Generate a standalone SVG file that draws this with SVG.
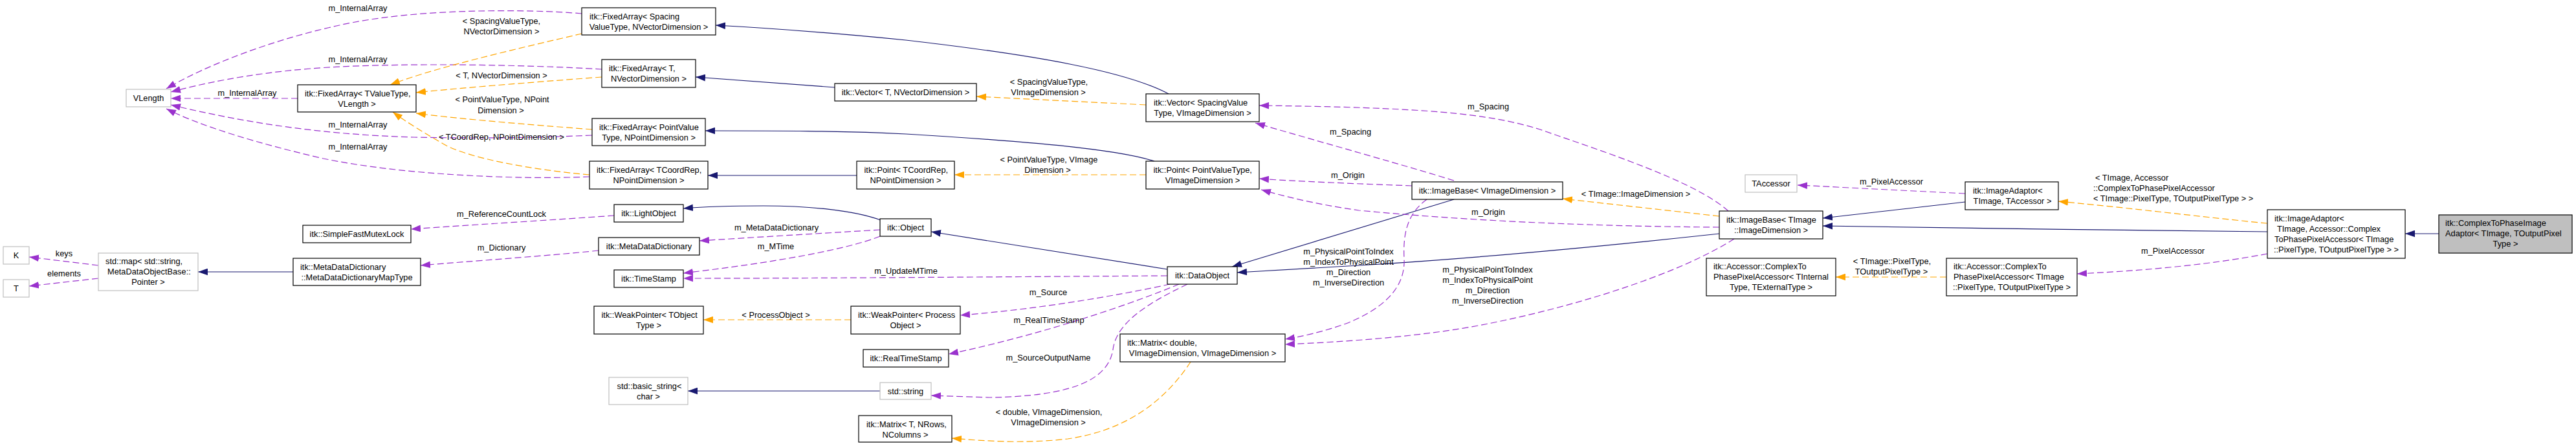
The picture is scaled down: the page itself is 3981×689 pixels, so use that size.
<svg xmlns="http://www.w3.org/2000/svg" width="3981" height="689" viewBox="0 0 3981 689">
<style>
text{font-family:"Liberation Sans",Arial,sans-serif;font-size:12.8px;fill:#000}
.m{text-anchor:middle}
.nd rect{fill:#fff;stroke:#000;stroke-width:1.2}
.gr rect{fill:#fff;stroke:#bfbfbf;stroke-width:1.2}
.mn rect{fill:#bfbfbf;stroke:#000;stroke-width:1.2}
.e path{fill:none;stroke-width:1.2}
.inh{stroke:#191970;marker-end:url(#aN)}
.use{stroke:#9a32cd;stroke-dasharray:10,5;marker-end:url(#aP)}
.tpl{stroke:#ffa500;stroke-dasharray:10,5;marker-end:url(#aO)}
</style>
<defs>
<marker id="aN" markerUnits="userSpaceOnUse" markerWidth="15" markerHeight="11" viewBox="0 0 14 10" refX="14" refY="5" orient="auto"><path d="M0,0L14,5L0,10z" fill="#191970"/></marker>
<marker id="aP" markerUnits="userSpaceOnUse" markerWidth="15" markerHeight="11" viewBox="0 0 14 10" refX="14" refY="5" orient="auto"><path d="M0,0L14,5L0,10z" fill="#9a32cd"/></marker>
<marker id="aO" markerUnits="userSpaceOnUse" markerWidth="15" markerHeight="11" viewBox="0 0 14 10" refX="14" refY="5" orient="auto"><path d="M0,0L14,5L0,10z" fill="#ffa500"/></marker>
</defs>
<rect width="3981" height="689" fill="#fff"/>
<g id="connectors" class="e">
<path class="use" d="M899,21C820,14 640,12 520,40C420,62 320,100 257,137"/>
<path class="use" d="M930,107C820,100 600,96 480,106C380,114 310,130 264,142"/>
<path class="use" d="M460,152L264,152"/>
<path class="use" d="M915,209C820,213 750,214 640,212C500,208 380,190 264,162"/>
<path class="use" d="M911,273C800,278 620,270 500,245C400,222 310,195 257,168"/>
<path class="tpl" d="M899,52C800,75 670,105 603,131"/>
<path class="tpl" d="M930,119C850,125 720,135 643,143"/>
<path class="tpl" d="M915,200C850,195 720,185 643,175"/>
<path class="tpl" d="M911,270C820,262 730,245 690,225C660,208 630,190 607,173"/>
<path class="inh" d="M1806,145C1740,110 1600,85 1400,62C1300,52 1200,44 1106,39"/>
<path class="inh" d="M1290,135L1075,119"/>
<path class="inh" d="M1784,249C1740,235 1650,222 1400,207C1300,202 1200,202 1090,202"/>
<path class="inh" d="M1324,271L1094,271"/>
<path class="inh" d="M1361,340C1320,325 1250,318 1180,318C1120,318 1080,320 1056,322"/>
<path class="inh" d="M1804,416L1439,358"/>
<path class="inh" d="M2247,308L1904,412"/>
<path class="inh" d="M2657,361C2500,378 2300,398 2100,410C2030,414 1960,418 1912,421"/>
<path class="inh" d="M3037,312L2817,337"/>
<path class="inh" d="M3504,358C3300,356 3000,352 2817,349"/>
<path class="inh" d="M3769,361L3717,361"/>
<path class="inh" d="M453,420L306,420"/>
<path class="inh" d="M1360,604L1063,604"/>
<path class="use" d="M152,410L45,397"/>
<path class="use" d="M152,430L45,442"/>
<path class="use" d="M949,333C850,340 720,348 635,354"/>
<path class="use" d="M925,387C850,395 720,404 650,410"/>
<path class="use" d="M1360,355C1260,361 1160,367 1081,372"/>
<path class="use" d="M1360,365C1310,385 1200,405 1056,422"/>
<path class="use" d="M1804,426C1500,428 1250,430 1056,430"/>
<path class="use" d="M1808,439C1720,458 1600,478 1484,487"/>
<path class="use" d="M1822,439C1760,465 1620,515 1466,547"/>
<path class="use" d="M1835,439C1770,470 1725,500 1720,540C1712,590 1650,612 1530,614L1439,611"/>
<path class="use" d="M2671,326C2620,280 2480,235 2380,200C2300,175 2200,166 1946,163"/>
<path class="use" d="M2247,279C2180,258 2050,222 1940,190"/>
<path class="use" d="M2182,287C2100,284 2000,280 1946,276"/>
<path class="use" d="M2657,351C2500,350 2300,344 2100,325C2030,315 1980,302 1949,293"/>
<path class="use" d="M2205,308C2175,330 2168,360 2170,400C2172,450 2130,480 2080,500C2040,514 2010,520 1986,524"/>
<path class="use" d="M2680,369C2600,420 2450,470 2300,500C2200,520 2080,528 1986,532"/>
<path class="use" d="M3037,299L2778,286"/>
<path class="use" d="M3504,392C3420,408 3320,418 3210,423"/>
<path class="tpl" d="M2657,334L2415,307"/>
<path class="tpl" d="M3504,345C3400,335 3300,322 3181,311"/>
<path class="tpl" d="M3008,428L2837,428"/>
<path class="tpl" d="M1840,559C1800,620 1740,665 1650,678C1580,686 1520,681 1471,677"/>
<path class="tpl" d="M1771,270L1475,270"/>
<path class="tpl" d="M1771,162L1509,149"/>
<path class="tpl" d="M1315,494L1087,494"/>
<g id="edge-labels">
<text class="m" x="553" y="17">m_InternalArray</text>
<text class="m" x="553" y="96">m_InternalArray</text>
<text class="m" x="382" y="148">m_InternalArray</text>
<text class="m" x="553" y="197">m_InternalArray</text>
<text class="m" x="553" y="231">m_InternalArray</text>
<text class="m" x="775" y="37">&lt; SpacingValueType,</text>
<text class="m" x="775" y="53">NVectorDimension &gt;</text>
<text class="m" x="775" y="121">&lt; T, NVectorDimension &gt;</text>
<text class="m" x="776" y="158">&lt; PointValueType, NPoint</text>
<text class="m" x="774" y="175">Dimension &gt;</text>
<text class="m" x="775" y="216">&lt; TCoordRep, NPointDimension &gt;</text>
<text class="m" x="775" y="335">m_ReferenceCountLock</text>
<text class="m" x="775" y="387">m_Dictionary</text>
<text class="m" x="99" y="396">keys</text>
<text class="m" x="99" y="427">elements</text>
<text class="m" x="1200" y="356">m_MetaDataDictionary</text>
<text class="m" x="1199" y="385">m_MTime</text>
<text class="m" x="1400" y="423">m_UpdateMTime</text>
<text class="m" x="1199" y="491">&lt; ProcessObject &gt;</text>
<text class="m" x="1620" y="456">m_Source</text>
<text class="m" x="1621" y="499">m_RealTimeStamp</text>
<text class="m" x="1620" y="557">m_SourceOutputName</text>
<text class="m" x="1621" y="641">&lt; double, VImageDimension,</text>
<text class="m" x="1620" y="657">VImageDimension &gt;</text>
<text class="m" x="1621" y="131">&lt; SpacingValueType,</text>
<text class="m" x="1620" y="147">VImageDimension &gt;</text>
<text class="m" x="1621" y="251">&lt; PointValueType, VImage</text>
<text class="m" x="1619" y="267">Dimension &gt;</text>
<text class="m" x="2300" y="169">m_Spacing</text>
<text class="m" x="2087" y="208">m_Spacing</text>
<text class="m" x="2083" y="275">m_Origin</text>
<text class="m" x="2300" y="332">m_Origin</text>
<text class="m" x="2084" y="393">m_PhysicalPointToIndex</text>
<text class="m" x="2084" y="409">m_IndexToPhysicalPoint</text>
<text class="m" x="2084" y="425">m_Direction</text>
<text class="m" x="2084" y="441">m_InverseDirection</text>
<text class="m" x="2299" y="421">m_PhysicalPointToIndex</text>
<text class="m" x="2299" y="437">m_IndexToPhysicalPoint</text>
<text class="m" x="2299" y="453">m_Direction</text>
<text class="m" x="2299" y="469">m_InverseDirection</text>
<text class="m" x="2528" y="304">&lt; TImage::ImageDimension &gt;</text>
<text class="m" x="2923" y="285">m_PixelAccessor</text>
<text class="m" x="2924" y="408">&lt; TImage::PixelType,</text>
<text class="m" x="2923" y="424">TOutputPixelType &gt;</text>
<text x="3238" y="279">&lt; TImage, Accessor</text>
<text x="3235" y="295">::ComplexToPhasePixelAccessor</text>
<text x="3235" y="311">&lt; TImage::PixelType, TOutputPixelType &gt; &gt;</text>
<text class="m" x="3358" y="392">m_PixelAccessor</text>
</g>
</g>
<g id="n_VLength" class="gr"><rect x="195" y="138" width="69" height="27"/><text class="m" x="229.5" y="156">VLength</text></g>
<g id="n_FixedArray_TValueType" class="nd"><rect x="460" y="131" width="183" height="42"/><text x="471" y="148.5">itk::FixedArray&lt; TValueType,</text><text class="m" x="551.5" y="164.5">VLength &gt;</text></g>
<g id="n_K" class="gr"><rect x="5" y="381" width="40" height="27"/><text class="m" x="25" y="399">K</text></g>
<g id="n_T" class="gr"><rect x="5" y="432" width="40" height="27"/><text class="m" x="25" y="450">T</text></g>
<g id="n_stdmap" class="gr"><rect x="152" y="391" width="154" height="58"/><text x="163" y="408">std::map&lt; std::string,</text><text x="166" y="424">MetaDataObjectBase::</text><text class="m" x="229" y="440">Pointer &gt;</text></g>
<g id="n_SimpleFastMutexLock" class="nd"><rect x="468" y="348" width="167" height="27"/><text class="m" x="551.5" y="366">itk::SimpleFastMutexLock</text></g>
<g id="n_MetaDataDictionaryMapType" class="nd"><rect x="453" y="399" width="197" height="42"/><text x="464" y="416.5">itk::MetaDataDictionary</text><text class="m" x="551.5" y="432.5">::MetaDataDictionaryMapType</text></g>
<g id="n_FixedArray_Spacing" class="nd"><rect x="899" y="12" width="207" height="42"/><text x="911" y="29.5">itk::FixedArray&lt; Spacing</text><text class="m" x="1002.5" y="45.5">ValueType, NVectorDimension &gt;</text></g>
<g id="n_FixedArray_T" class="nd"><rect x="930" y="92" width="145" height="43"/><text x="941" y="109.5">itk::FixedArray&lt; T,</text><text class="m" x="1002.5" y="125.5">NVectorDimension &gt;</text></g>
<g id="n_FixedArray_PointValue" class="nd"><rect x="915" y="183" width="175" height="42"/><text x="926" y="200.5">itk::FixedArray&lt; PointValue</text><text class="m" x="1002.5" y="216.5">Type, NPointDimension &gt;</text></g>
<g id="n_FixedArray_TCoordRep" class="nd"><rect x="911" y="249" width="183" height="43"/><text x="922" y="266.5">itk::FixedArray&lt; TCoordRep,</text><text class="m" x="1002.5" y="282.5">NPointDimension &gt;</text></g>
<g id="n_LightObject" class="nd"><rect x="949" y="316" width="107" height="27"/><text class="m" x="1002.5" y="334">itk::LightObject</text></g>
<g id="n_MetaDataDictionary" class="nd"><rect x="925" y="367" width="156" height="27"/><text class="m" x="1003" y="385">itk::MetaDataDictionary</text></g>
<g id="n_TimeStamp" class="nd"><rect x="949" y="417" width="107" height="27"/><text class="m" x="1002.5" y="435">itk::TimeStamp</text></g>
<g id="n_WeakPointer_TObject" class="nd"><rect x="918" y="473" width="169" height="43"/><text x="929.5" y="490.5">itk::WeakPointer&lt; TObject</text><text class="m" x="1002.5" y="506.5">Type &gt;</text></g>
<g id="n_basic_string" class="gr"><rect x="941" y="583" width="122" height="42"/><text x="953.5" y="600.5">std::basic_string&lt;</text><text class="m" x="1002" y="616.5">char &gt;</text></g>
<g id="n_Vector_T" class="nd"><rect x="1290" y="129" width="219" height="27"/><text class="m" x="1399.5" y="147">itk::Vector&lt; T, NVectorDimension &gt;</text></g>
<g id="n_Point_TCoordRep" class="nd"><rect x="1324" y="249" width="151" height="43"/><text x="1335.5" y="266.5">itk::Point&lt; TCoordRep,</text><text class="m" x="1399.5" y="282.5">NPointDimension &gt;</text></g>
<g id="n_Object" class="nd"><rect x="1360" y="338" width="79" height="27"/><text class="m" x="1399.5" y="356">itk::Object</text></g>
<g id="n_WeakPointer_Process" class="nd"><rect x="1315" y="473" width="169" height="43"/><text x="1326" y="490.5">itk::WeakPointer&lt; Process</text><text class="m" x="1399.5" y="506.5">Object &gt;</text></g>
<g id="n_RealTimeStamp" class="nd"><rect x="1334" y="540" width="132" height="27"/><text class="m" x="1400" y="558">itk::RealTimeStamp</text></g>
<g id="n_string" class="gr"><rect x="1360" y="591" width="79" height="26"/><text class="m" x="1399.5" y="608.5">std::string</text></g>
<g id="n_Matrix_T" class="nd"><rect x="1327" y="642" width="144" height="41"/><text x="1339" y="659.5">itk::Matrix&lt; T, NRows,</text><text class="m" x="1399" y="675.5">NColumns &gt;</text></g>
<g id="n_Vector_Spacing" class="nd"><rect x="1771" y="145" width="175" height="43"/><text x="1783" y="162.5">itk::Vector&lt; SpacingValue</text><text class="m" x="1858.5" y="178.5">Type, VImageDimension &gt;</text></g>
<g id="n_Point_PointValue" class="nd"><rect x="1771" y="249" width="175" height="43"/><text x="1782.5" y="266.5">itk::Point&lt; PointValueType,</text><text class="m" x="1858.5" y="282.5">VImageDimension &gt;</text></g>
<g id="n_DataObject" class="nd"><rect x="1804" y="412" width="108" height="27"/><text class="m" x="1858" y="430">itk::DataObject</text></g>
<g id="n_Matrix_double" class="nd"><rect x="1731" y="516" width="255" height="43"/><text x="1742" y="533.5">itk::Matrix&lt; double,</text><text class="m" x="1858.5" y="549.5">VImageDimension, VImageDimension &gt;</text></g>
<g id="n_ImageBase_V" class="nd"><rect x="2182" y="281" width="233" height="27"/><text class="m" x="2298.5" y="299">itk::ImageBase&lt; VImageDimension &gt;</text></g>
<g id="n_TAccessor" class="gr"><rect x="2697" y="270" width="80" height="27"/><text class="m" x="2737" y="288">TAccessor</text></g>
<g id="n_ImageBase_TImage" class="nd"><rect x="2657" y="326" width="160" height="43"/><text x="2668" y="343.5">itk::ImageBase&lt; TImage</text><text class="m" x="2737" y="359.5">::ImageDimension &gt;</text></g>
<g id="n_Accessor_Internal" class="nd"><rect x="2637" y="399" width="200" height="58"/><text x="2648" y="416">itk::Accessor::ComplexTo</text><text x="2648" y="432">PhasePixelAccessor&lt; TInternal</text><text class="m" x="2737" y="448">Type, TExternalType &gt;</text></g>
<g id="n_ImageAdaptor_TAccessor" class="nd"><rect x="3037" y="281" width="144" height="43"/><text x="3049" y="298.5">itk::ImageAdaptor&lt;</text><text class="m" x="3110" y="314.5">TImage, TAccessor &gt;</text></g>
<g id="n_Accessor_TImage" class="nd"><rect x="3008" y="399" width="202" height="58"/><text x="3019" y="416">itk::Accessor::ComplexTo</text><text x="3019" y="432">PhasePixelAccessor&lt; TImage</text><text class="m" x="3109" y="448">::PixelType, TOutputPixelType &gt;</text></g>
<g id="n_ImageAdaptor_Complex" class="nd"><rect x="3504" y="324" width="213" height="75"/><text x="3515" y="341.5">itk::ImageAdaptor&lt;</text><text x="3519" y="357.5">TImage, Accessor::Complex</text><text x="3515" y="373.5">ToPhasePixelAccessor&lt; TImage</text><text class="m" x="3610.5" y="389.5">::PixelType, TOutputPixelType &gt; &gt;</text></g>
<g id="n_ComplexToPhaseImageAdaptor" class="mn"><rect x="3769" y="332" width="206" height="59"/><text x="3779" y="349">itk::ComplexToPhaseImage</text><text x="3779" y="365">Adaptor&lt; TImage, TOutputPixel</text><text class="m" x="3872" y="381">Type &gt;</text></g>
</svg>
